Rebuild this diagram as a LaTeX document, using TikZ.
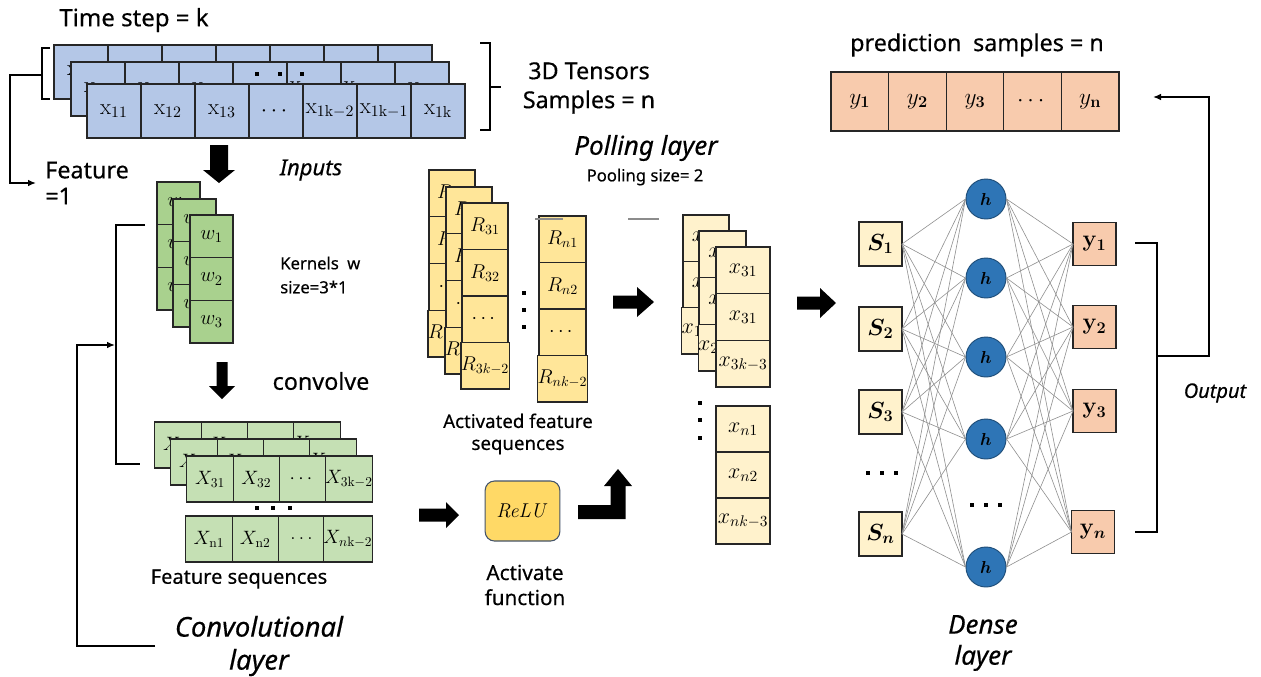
\RequirePackage{fix-cm}
\documentclass[tikz,border=0pt]{standalone}
\usepackage[no-math]{fontspec}
\setmainfont{Noto Sans}[FakeBold=0.4]
\usepackage{amsmath,bm}
\usetikzlibrary{arrows.meta}

\definecolor{inblue}{HTML}{B4C7E7}
\definecolor{kgreen}{HTML}{A9D18E}
\definecolor{fgreen}{HTML}{C5E0B4}
\definecolor{ryellow}{HTML}{FFE699}
\definecolor{pyellow}{HTML}{FFF2CC}
\definecolor{yorange}{HTML}{F8CBAD}
\definecolor{relufill}{HTML}{FFD966}
\definecolor{reluedge}{HTML}{44546A}
\definecolor{hblue}{HTML}{2E75B6}
\definecolor{hedge}{HTML}{1F4E79}
\definecolor{meshgray}{HTML}{8F8F8F}

\tikzset{
  cell/.style={draw=black!85, line width=0.9pt, inner sep=0pt, outer sep=0pt},
  incell/.style={cell, fill=inblue, minimum width=40.5pt, minimum height=40.5pt, font=\fontsize{17}{17}\selectfont},
  kcell/.style={cell, fill=kgreen, minimum width=32.25pt, minimum height=32pt, font=\fontsize{15.5}{15.5}\selectfont},
  fcell/.style={cell, fill=fgreen, minimum width=34.7pt, minimum height=34.5pt, font=\fontsize{14.5}{14.5}\selectfont},
  rcell/.style={cell, fill=ryellow, minimum width=34.5pt, minimum height=35pt, font=\fontsize{15}{15}\selectfont},
  pcell/.style={cell, fill=pyellow, minimum width=34.5pt, minimum height=34.8pt, font=\fontsize{16.5}{16.5}\selectfont},
  scell/.style={cell, fill=pyellow, minimum width=32.25pt, minimum height=33pt, font=\boldmath\fontsize{17.5}{17.5}\selectfont},
  ycell/.style={cell, fill=yorange, minimum width=32.25pt, minimum height=32.25pt, font=\fontsize{17.5}{17.5}\selectfont},
  predcell/.style={cell, fill=yorange, minimum width=43.2pt, minimum height=44.25pt, font=\fontsize{17.5}{17.5}\selectfont},
  hnode/.style={circle, draw=hedge, line width=0.7pt, fill=hblue, minimum size=30pt, inner sep=0pt, font=\fontsize{13}{13}\selectfont},
  relubox/.style={draw=reluedge, line width=0.8pt, fill=relufill, rounded corners=7pt, minimum width=56pt, minimum height=45pt, font=\fontsize{15}{15}\selectfont},
  bigtxt/.style={inner sep=0pt, font=\fontsize{17.5}{21}\selectfont},
  midtxt/.style={inner sep=0pt, font=\fontsize{15}{19}\selectfont},
  smalltxt/.style={inner sep=0pt, font=\fontsize{12.5}{18}\selectfont},
  ittxt/.style={inner sep=0pt, font=\fontsize{#1}{#1}\selectfont\itshape},
  blockarrow/.style={fill=black, draw=none},
  wire/.style={draw=black, line width=1.1pt},
  tip/.style={-{Latex[length=6pt,width=5pt]}},
  mesh/.style={draw=meshgray, line width=0.45pt},
  dot/.style={fill=black, draw=none, minimum size=3pt, inner sep=0pt, rectangle},
  greyline/.style={draw=black!45, line width=0.8pt},
}

\begin{document}
\begin{tikzpicture}[x=0.75pt,y=-0.75pt]
\useasboundingbox (0,0) rectangle (1261,676);
\fill[white] (0,0) rectangle (1261,676);

% ---------------- input tensor (three stacked rows) ----------------
\node[bigtxt, font=\fontsize{18}{21}\selectfont] (tstep) at (134,20) {Time step = k};
\foreach \lab [count=\i from 0] in {{$\mathrm{x}_{31}$},{},{},{},{},{},{}}
  \node[incell] (inC\i) at ({81+54*\i},72) {\lab};
\foreach \lab [count=\i from 0] in {{$\mathrm{x}_{21}$},{$\mathrm{x}_{22}$},{$\mathrm{x}_{23}$},{},{$\mathrm{x}_{\mathrm{2k}-2}$},{$\mathrm{x}_{\mathrm{2k}-1}$},{$\mathrm{x}_{\mathrm{2k}}$}}
  \node[incell] (inB\i) at ({98+54*\i},89) {\lab};
\foreach \xx [count=\i] in {257,280,302}
  \node[dot, minimum size=3.5pt] (indot\i) at (\xx,74) {};
\foreach \lab [count=\i from 0] in {{$\mathrm{x}_{11}$},{$\mathrm{x}_{12}$},{$\mathrm{x}_{13}$},{$\cdots$},{$\mathrm{x}_{\mathrm{1k}-2}$},{$\mathrm{x}_{\mathrm{1k}-1}$},{$\mathrm{x}_{\mathrm{1k}}$}}
  \node[incell] (inA\i) at ({114+54*\i},111) {\lab};

% brackets round the tensor
\draw[wire] (50,48) -| (42,99) -- (50,99);
\coordinate (featin) at (36,183);
\draw[wire,tip] (42,75) -- (10,75) |- (featin);
\draw[wire] (480,43) -| (490,130) -- (480,130);
\draw[wire] (490,87) -- (501,87);
\node[bigtxt, align=center, font=\fontsize{17.5}{21.75}\selectfont] (tens) at (589,88) {3D Tensors\\Samples = n};
\node[bigtxt, align=left, anchor=west, font=\fontsize{17.5}{19.5}\selectfont] (feat) at (45,183) {Feature\\=1};
\node[ittxt=16.5] (inputs) at (311,170) {Inputs};

% down arrow to the kernels
\fill[blockarrow] (210,145) -- (228,145) -- (228,170) -- (235,170) -- (219,183) -- (203,170) -- (210,170) -- cycle;

% ---------------- kernels ----------------
\foreach \lab [count=\j from 0] in {{$w_1$},{$w_2$},{$w_3$}}
  \node[kcell] (kC\j) at (178.5,{203.3+42.7*\j}) {\lab};
\foreach \lab [count=\j from 0] in {{$w_1$},{$w_2$},{$w_3$}}
  \node[kcell] (kB\j) at (194.5,{220.3+42.7*\j}) {\lab};
\foreach \lab [count=\j from 0] in {{$w_1$},{$w_2$},{$w_3$}}
  \node[kcell] (kA\j) at (211.5,{236.3+42.7*\j}) {\lab};
\node[smalltxt, align=left, anchor=west] (kern) at (280,275) {Kernels\enspace w\\size=3*1};

% down arrow (convolve)
\fill[blockarrow] (216.5,362) -- (227.5,362) -- (227.5,386) -- (235,386) -- (222,399) -- (209,386) -- (216.5,386) -- cycle;
\node[bigtxt] (conv) at (321,381) {convolve};

% ---------------- feature sequences ----------------
\foreach \lab [count=\i from 0] in {{$X_{11}$},{$X_{12}$},{},{$X_{\mathrm{1k}-2}$}}
  \node[fcell] (fC\i) at ({178+46.3*\i},445) {\lab};
\foreach \lab [count=\i from 0] in {{$X_{21}$},{$X_{22}$},{},{$X_{\mathrm{2k}-2}$}}
  \node[fcell] (fB\i) at ({194+46.3*\i},462) {\lab};
\foreach \lab [count=\i from 0] in {{$X_{31}$},{$X_{32}$},{$\cdots$},{$X_{\mathrm{3k}-2}$}}
  \node[fcell] (fA\i) at ({210+46.3*\i},479) {\lab};
\foreach \xx [count=\i] in {257,273,290}
  \node[dot, minimum size=3.5pt] (fdot\i) at (\xx,508) {};
\foreach \lab [count=\i from 0] in {{$X_{\mathrm{n1}}$},{$X_{\mathrm{n2}}$},{$\ldots$},{$X_{n\mathrm{k}-2}$}}
  \node[fcell] (fN\i) at ({209+46.3*\i},539) {\lab};
\node[midtxt] (fseq) at (239,579) {Feature sequences};

% convolutional layer brackets
\draw[wire] (145,225) -| (116,464) -- (140,464);
\coordinate (convin) at (115,345);
\draw[wire,tip] (155,646) -| (77,345) -- (convin);
\node[inner sep=0pt, align=center, font=\fontsize{20.5}{24.75}\selectfont\itshape] (convlayer) at (259,646) {Convolutional\\layer};

% ---------------- activation ----------------
\fill[blockarrow] (419,508.5) -- (446,508.5) -- (446,502) -- (459,515) -- (446,528) -- (446,521.5) -- (419,521.5) -- cycle;
\node[relubox] (relu) at (522.5,511) {$\mathit{ReLU}$};
\node[midtxt, align=center, font=\fontsize{15.5}{18.75}\selectfont] (actf) at (525,585) {Activate\\function};
\fill[blockarrow] (578,505) -- (610.5,505) -- (610.5,486) -- (604,486) -- (618,469) -- (632,486) -- (625.5,486) -- (625.5,519) -- (578,519) -- cycle;

% ---------------- activated feature sequences ----------------
\foreach \lab [count=\j from 0] in {{$R_{11}$},{$R_{12}$},{$\cdots$},{$R_{1k-2}$}}
  \node[rcell] (rC\j) at (452,{193.4+46.75*\j}) {\lab};
\foreach \lab [count=\j from 0] in {{$R_{21}$},{$R_{22}$},{$\cdots$},{$R_{2k-2}$}}
  \node[rcell] (rB\j) at (469,{210.4+46.75*\j}) {\lab};
\foreach \lab [count=\j from 0] in {{$R_{31}$},{$R_{32}$},{$\cdots$},{$R_{3k-2}$}}
  \node[rcell, minimum height=34.9pt] (rA\j) at (485,{226.25+46.5*\j}) {\lab};
\foreach \yy [count=\j] in {293,310,327}
  \node[dot, minimum size=3.5pt] (rdot\j) at (524,\yy) {};
\foreach \lab [count=\j from 0] in {{$R_{n1}$},{$R_{n2}$},{$\cdots$},{$R_{nk-2}$}}
  \node[rcell, minimum width=35.25pt, minimum height=34.9pt] (rN\j) at (562.5,{239.25+46.5*\j}) {\lab};
\draw[greyline] (535,219) -- (563,219);
\draw[greyline] (628,219) -- (659,219);
\node[midtxt, align=center, font=\fontsize{14}{16.5}\selectfont] (actseq) at (518,434) {Activated feature\\sequences};
\node[ittxt=19.5] (pool) at (646,148) {Polling layer};
\node[smalltxt] (poolsize) at (645,177) {Pooling size= 2};

% arrow to the pooled maps
\fill[blockarrow] (613,295.5) -- (637,295.5) -- (637,287) -- (654,302) -- (637,317) -- (637,308.5) -- (613,308.5) -- cycle;

% ---------------- pooled maps ----------------
\foreach \lab [count=\j from 0] in {{$x_{11}$},{$x_{11}$},{$x_{1k-3}$}}
  \node[pcell] (pC\j) at (706,{238.2+46.3*\j}) {\lab};
\foreach \lab [count=\j from 0] in {{$x_{21}$},{$x_{21}$},{$x_{2k-3}$}}
  \node[pcell, minimum width=35.25pt, minimum height=35pt] (pB\j) at (722.5,{254.3+46.7*\j}) {\lab};
\foreach \lab [count=\j from 0] in {{$x_{31}$},{$x_{31}$},{$x_{3k-3}$}}
  \node[pcell, minimum width=40.5pt, minimum height=35pt] (pA\j) at (743,{270.3+46.7*\j}) {\lab};
\foreach \yy [count=\j] in {403,420,438}
  \node[dot, minimum size=3.5pt] (pdot\j) at (700,\yy) {};
\foreach \lab [count=\j from 0] in {{$x_{n1}$},{$x_{n2}$},{$x_{nk-3}$}}
  \node[pcell, minimum width=40.5pt, minimum height=34.5pt] (pN\j) at (743,{429+46*\j}) {\lab};

% arrow to the dense layer
\fill[blockarrow] (797,296.5) -- (820,296.5) -- (820,288) -- (836,303) -- (820,318) -- (820,309.5) -- (797,309.5) -- cycle;

% ---------------- dense layer ----------------
\node[scell] (S1) at (880.5,244) {$S_1$};
\node[scell] (S2) at (880.5,329) {$S_2$};
\node[scell] (S3) at (880.5,412) {$S_3$};
\node[scell] (Sn) at (880.5,534) {$S_n$};
\foreach \xx [count=\i] in {868,882,896}
  \node[dot, minimum size=2.6pt] (sdot\i) at (\xx,473) {};
\foreach \yy [count=\j] in {199,278,357,439,567}
  \node[hnode] (h\j) at (986,\yy) {$\bm{h}$};
\foreach \xx [count=\i] in {972,986,1000}
  \node[dot, minimum size=2.6pt] (hdot\i) at (\xx,505) {};
\node[ycell] (y1) at (1094.5,244) {$\mathbf{y}_{\mathbf{1}}$};
\node[ycell] (y2) at (1094.5,327) {$\mathbf{y}_{\mathbf{2}}$};
\node[ycell] (y3) at (1094.5,411) {$\mathbf{y}_{\mathbf{3}}$};
\node[ycell] (yn) at (1093,532) {$\mathbf{y}_{\bm{n}}$};
\foreach \s in {S1,S2,S3,Sn}
  \foreach \j in {1,...,5}
    \draw[mesh] (\s.east) -- (h\j.west);
\foreach \j in {1,...,5}
  \foreach \t in {y1,y2,y3,yn}
    \draw[mesh] (h\j.east) -- (\t.west);
\node[inner sep=0pt, align=center, font=\fontsize{19.5}{23.25}\selectfont\itshape] (dense) at (983,643) {Dense\\layer};

% output bracket and feedback to the prediction row
\draw[wire] (1135,243) -| (1157,532) -- (1135,532);
\coordinate (predin) at (1153,97);
\draw[wire,tip] (1157,356) -| (1209,97) -- (predin);
\node[ittxt=15] (outp) at (1215,393) {Output};

% ---------------- prediction row ----------------
\node[bigtxt] (predt) at (977,45) {prediction\enspace samples = n};
\foreach \lab [count=\i from 0] in {{$y_{\mathbf{1}}$},{$y_{\mathbf{2}}$},{$y_{\mathbf{3}}$},{$\cdots$},{$y_{\mathbf{n}}$}}
  \node[predcell] (pr\i) at ({859.8+57.6*\i},101.5) {\lab};
\end{tikzpicture}
\end{document}
